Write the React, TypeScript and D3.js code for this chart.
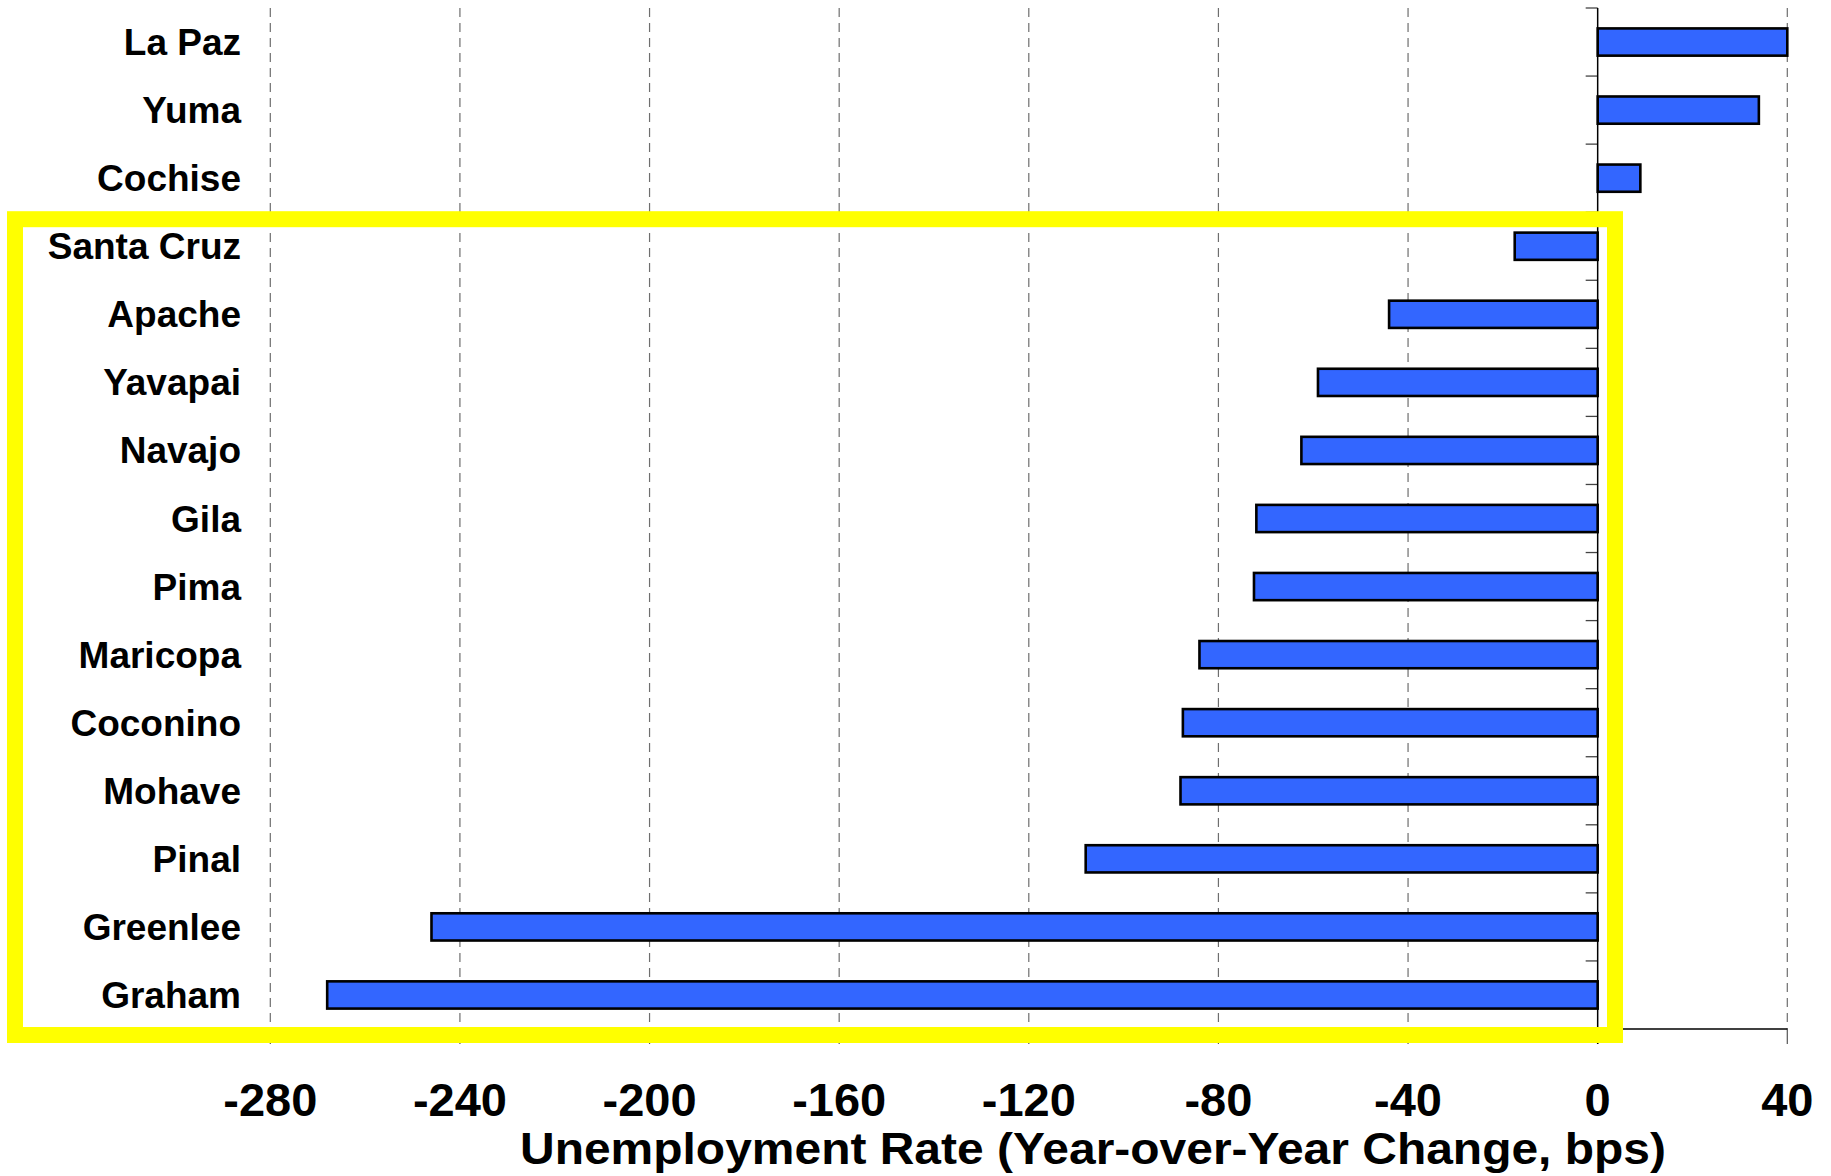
import React from "react";
import * as d3 from "d3";

const counties: string[] = [
  "La Paz", "Yuma", "Cochise", "Santa Cruz", "Apache", "Yavapai", "Navajo",
  "Gila", "Pima", "Maricopa", "Coconino", "Mohave", "Pinal", "Greenlee", "Graham",
];
const changes: number[] = [
  40, 34, 9, -17.5, -44, -59, -62.5, -72, -72.5, -84, -87.5, -88, -108, -246, -268,
];
const xTicks: number[] = [-280, -240, -200, -160, -120, -80, -40, 0, 40];
const xDomain: [number, number] = [-280, 40];
const axisTitle = "Unemployment Rate (Year-over-Year Change, bps)";
const highlighted: string[] = [
  "Santa Cruz", "Apache", "Yavapai", "Navajo", "Gila", "Pima", "Maricopa",
  "Coconino", "Mohave", "Pinal", "Greenlee", "Graham",
];

const W = 1831;
const H = 1176;
const plotLeft = 270.3;
const plotRight = 1787.3;
const plotTop = 8;
const plotBottom = 1029;
const FONT = "'Liberation Sans', Arial, Helvetica, sans-serif";

export default function App() {
  const x = d3.scaleLinear().domain(xDomain).range([plotLeft, plotRight]);
  const y = d3
    .scaleBand<string>()
    .domain(counties)
    .range([plotTop, plotBottom])
    .paddingInner(0.6)
    .paddingOuter(0.3);
  const step = y.step();
  const boundaries = d3.range(counties.length + 1).map((i) => plotTop + i * step);

  const hlFirst = y(highlighted[0])! - (step - y.bandwidth()) / 2;
  const hlLast = y(highlighted[highlighted.length - 1])! + y.bandwidth() + (step - y.bandwidth()) / 2;
  const boxTop = hlFirst + 7;
  const boxBottom = hlLast + 6;

  return (
    <svg
      width={W}
      height={H}
      style={{ position: "absolute", left: 0, top: 0, display: "block", background: "#fff" }}
      fontFamily={FONT}
    >
      <rect x={0} y={0} width={W} height={H} fill="#fff" />
      {/* gridlines */}
      {xTicks
        .filter((t) => t !== 0)
        .map((t) => (
          <line
            key={"g" + t}
            x1={x(t)}
            x2={x(t)}
            y1={plotTop}
            y2={plotBottom}
            stroke="#6e6e6e"
            strokeWidth={1.2}
            strokeDasharray="9,6"
          />
        ))}
      {/* x tick marks */}
      {xTicks.map((t) => (
        <line key={"t" + t} x1={x(t)} x2={x(t)} y1={plotBottom} y2={plotBottom + 15} stroke="#555" strokeWidth={1.2} />
      ))}
      {/* x axis line */}
      <line x1={plotLeft} x2={plotRight} y1={plotBottom} y2={plotBottom} stroke="#000" strokeWidth={1.5} />
      {/* y tick marks */}
      {boundaries.map((b, i) => (
        <line key={"yt" + i} x1={x(0) - 12} x2={x(0)} y1={b} y2={b} stroke="#444" strokeWidth={1.3} />
      ))}
      {/* bars */}
      {counties.map((c, i) => {
        const v = changes[i];
        const x0 = x(Math.min(0, v));
        const x1 = x(Math.max(0, v));
        return (
          <rect
            key={c}
            x={x0}
            y={y(c)!}
            width={x1 - x0}
            height={y.bandwidth()}
            fill="#3366FF"
            stroke="#000"
            strokeWidth={2.6}
          />
        );
      })}
      {/* y axis line */}
      <line x1={x(0)} x2={x(0)} y1={plotTop} y2={plotBottom + 15} stroke="#000" strokeWidth={1.5} />
      {/* category labels */}
      {counties.map((c) => (
        <text
          key={"l" + c}
          x={241}
          y={y(c)! + y.bandwidth() / 2 + 13}
          textAnchor="end"
          fontSize={37}
          fontWeight="bold"
          fill="#000"
        >
          {c}
        </text>
      ))}
      {/* x tick labels */}
      {xTicks.map((t) => (
        <text
          key={"xl" + t}
          x={x(t)}
          y={1116}
          textAnchor="middle"
          fontSize={47}
          fontWeight="bold"
          fill="#000"
        >
          {t}
        </text>
      ))}
      {/* axis title */}
      <text
        x={1093}
        y={1164}
        textAnchor="middle"
        fontSize={45}
        fontWeight="bold"
        fill="#000"
        textLength={1146}
        lengthAdjust="spacingAndGlyphs"
      >
        {axisTitle}
      </text>
      {/* highlight box */}
      <rect
        x={15}
        y={boxTop}
        width={1615 - 15}
        height={boxBottom - boxTop}
        fill="none"
        stroke="#FFFF00"
        strokeWidth={16}
      />
    </svg>
  );
}
